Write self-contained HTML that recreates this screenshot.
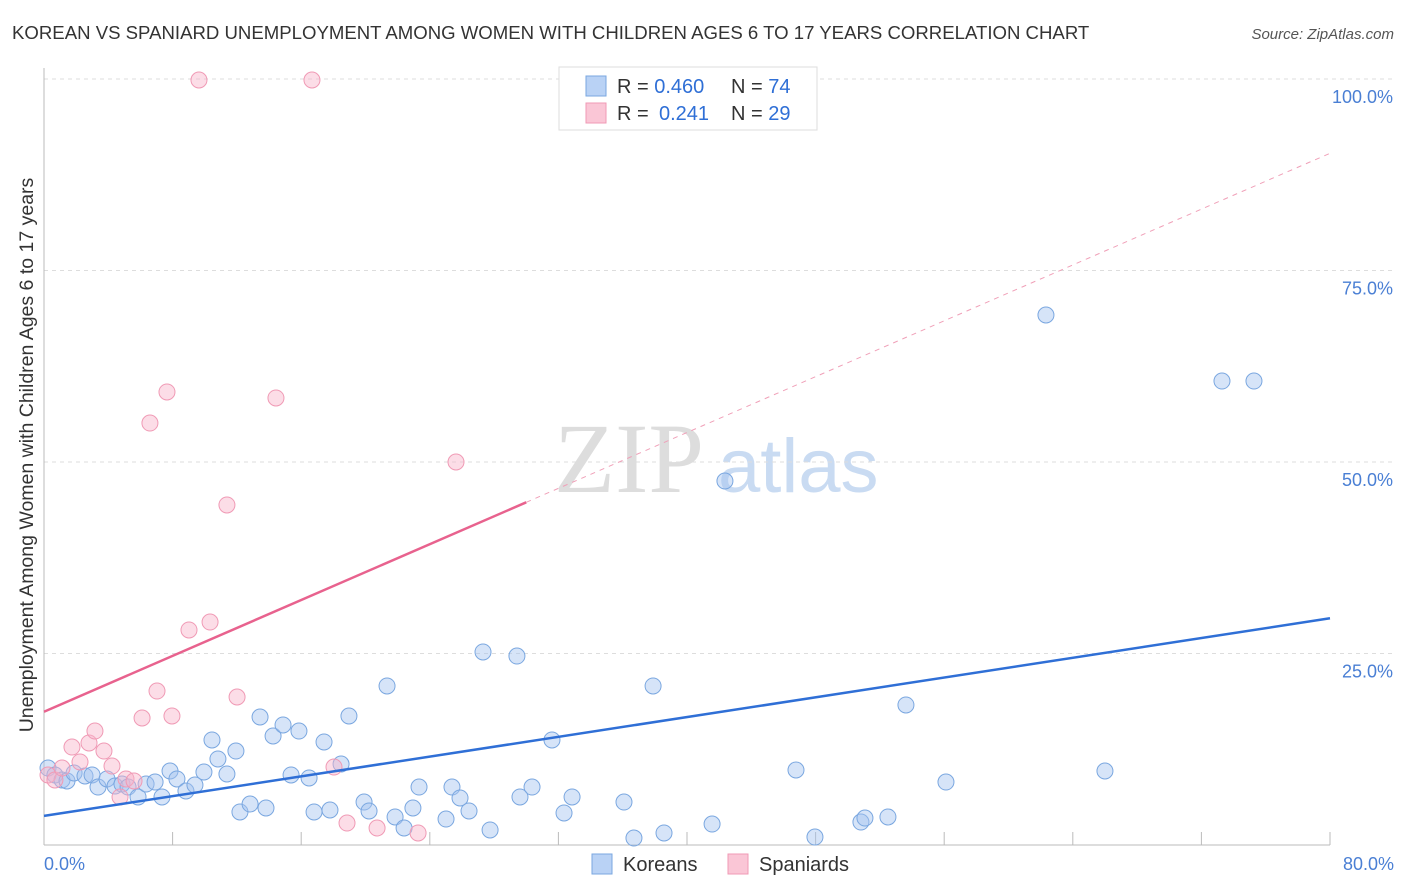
<!DOCTYPE html>
<html><head><meta charset="utf-8"><style>
body{margin:0;background:#fff;font-family:"Liberation Sans",sans-serif;}
svg{display:block}
</style></head><body>
<svg id="chart" width="1406" height="892">
<text x="12" y="39" font-size="18.6" fill="#333">KOREAN VS SPANIARD UNEMPLOYMENT AMONG WOMEN WITH CHILDREN AGES 6 TO 17 YEARS CORRELATION CHART</text>
<text x="1394" y="39" font-size="15" fill="#555" font-style="italic" text-anchor="end">Source: ZipAtlas.com</text>
<text transform="translate(33,455) rotate(-90)" font-size="19.5" fill="#333" text-anchor="middle">Unemployment Among Women with Children Ages 6 to 17 years</text>
<text x="554" y="492" font-size="100" fill="#ddd" font-family="Liberation Serif">ZIP</text>
<text x="718" y="492" font-size="76" fill="#c9dbf2">atlas</text>
<g id="grid"></g><g id="axes"></g><g id="marks"></g>
<g>
<rect x="559" y="67" width="258" height="63" fill="#fff" stroke="#ddd"/>
<rect x="586" y="76" width="20" height="20" fill="#b9d2f5" stroke="#7aa7e0"/>
<rect x="586" y="103" width="20" height="20" fill="#fac6d6" stroke="#f09ab5"/>
<text x="617" y="93" font-size="20" fill="#333">R = <tspan fill="#2f6fd6">0.460</tspan><tspan x="731">N = </tspan><tspan fill="#2f6fd6">74</tspan></text>
<text x="617" y="120" font-size="20" fill="#333">R = <tspan fill="#2f6fd6" x="659">0.241</tspan><tspan x="731">N = </tspan><tspan fill="#2f6fd6">29</tspan></text>
</g>
<g>
<rect x="592" y="854" width="20" height="20" fill="#b9d2f5" stroke="#7aa7e0"/>
<text x="623" y="871" font-size="20" fill="#333">Koreans</text>
<rect x="728" y="854" width="20" height="20" fill="#fac6d6" stroke="#f09ab5"/>
<text x="759" y="871" font-size="20" fill="#333">Spaniards</text>
</g>
</svg>
<script>
const blueX=[0.25,0.68,1.12,1.43,1.87,2.55,2.99,3.36,3.92,4.42,4.85,5.23,5.85,6.35,6.91,7.34,7.84,8.27,8.83,9.39,9.95,10.45,10.82,11.38,11.94,12.19,12.82,13.44,13.81,14.25,14.87,15.37,15.86,16.49,16.80,17.42,17.79,18.48,18.97,19.91,20.22,21.34,21.84,22.40,22.95,23.33,25.01,25.38,25.88,26.44,27.31,27.75,29.42,29.61,30.36,31.60,32.35,32.85,36.08,36.70,37.89,38.57,41.56,42.36,46.78,47.96,50.82,51.07,52.50,53.62,56.11,62.33,66.00,73.28,75.27];
const blueY=[10.05,9.14,8.49,8.36,9.40,9.01,9.14,7.57,8.62,7.70,7.96,7.57,6.27,7.96,8.22,6.27,9.66,8.62,7.05,7.83,9.53,13.71,11.23,9.27,12.27,4.31,5.35,16.71,4.83,14.23,15.67,9.14,14.88,8.75,4.31,13.45,4.57,10.57,16.84,5.61,4.44,20.76,3.66,2.22,4.83,7.57,3.39,7.57,6.14,4.44,25.20,1.96,24.67,6.27,7.57,13.71,4.18,6.27,5.61,0.91,20.76,1.57,2.74,47.52,9.79,1.04,3.00,3.52,3.66,18.28,8.22,69.19,9.66,60.57,60.57];
const pinkX=[0.25,0.68,1.12,1.74,2.24,2.80,3.17,3.73,4.23,4.73,5.10,5.60,6.10,6.59,7.03,7.65,7.96,9.02,9.64,10.33,11.38,12.01,14.43,16.67,18.04,18.85,20.72,23.27,25.63];
const pinkY=[9.14,8.49,10.05,12.79,10.84,13.32,14.88,12.27,10.31,6.27,8.62,8.36,16.58,55.09,20.10,59.14,16.84,28.07,99.87,29.11,44.39,19.32,58.36,99.87,10.18,2.87,2.22,1.57,50.0];
const blueLine=[3.8,29.6];
const pinkLine=[17.4,90.3];
const yTicks=[25,50,75,100];
const NS='http://www.w3.org/2000/svg';
const sx=v=>44+v*16.075, sy=v=>845-v*7.66;
function mk(p,t,a){const e=document.createElementNS(NS,t);for(const k in a)e.setAttribute(k,a[k]);p.appendChild(e);return e;}
const grid=document.getElementById('grid'),axes=document.getElementById('axes'),marks=document.getElementById('marks');
yTicks.forEach(v=>{
 const l=mk(grid,'line',{x1:44,x2:1394,y1:sy(v),y2:sy(v),stroke:'#ddd','stroke-dasharray':'4,4'});
 
 
 const t=mk(axes,'text',{x:1393,y:sy(v)+24,'font-size':18,fill:'#4a7fd4','text-anchor':'end'});
 t.textContent=v.toFixed(1)+'%';
 
 
});
mk(axes,'line',{x1:44,x2:44,y1:68,y2:845,stroke:'#bbb'});
mk(axes,'line',{x1:44,x2:1330,y1:845,y2:845,stroke:'#bbb'});
for(let i=0;i<=10;i++){const x=sx(i*8);mk(axes,'line',{x1:x,x2:x,y1:832,y2:845,stroke:'#bbb'});}
[[0,'start',44],[80,'end',1394]].forEach(([v,a,x])=>{
 const t=mk(axes,'text',{x:x,y:870,'font-size':18,fill:'#4a7fd4','text-anchor':a});
 t.textContent=v.toFixed(1)+'%';
 
 
});
function pts(X,Y,fill,stroke,name){X.forEach((x,i)=>{
 const c=mk(marks,'circle',{cx:sx(x),cy:sy(Y[i]),r:8,fill:fill,stroke:stroke,'stroke-width':1});
 
 
});}
pts(blueX,blueY,'rgba(164,196,240,0.45)','#7aa7e0','korean-point');
pts(pinkX,pinkY,'rgba(248,180,202,0.45)','#f09ab5','spaniard-point');
const bl=mk(marks,'line',{x1:sx(0),y1:sy(blueLine[0]),x2:sx(80),y2:sy(blueLine[1]),stroke:'#2f6fd6','stroke-width':2.5});


const pAt=x=>pinkLine[0]+(pinkLine[1]-pinkLine[0])*x/80;
const pl=mk(marks,'line',{x1:sx(0),y1:sy(pAt(0)),x2:sx(30),y2:sy(pAt(30)),stroke:'#e8628e','stroke-width':2.5});


const pd=mk(marks,'line',{x1:sx(30),y1:sy(pAt(30)),x2:sx(80),y2:sy(pAt(80)),stroke:'#f0a0b8','stroke-width':1,'stroke-dasharray':'5,5'});


</script>
</body></html>
